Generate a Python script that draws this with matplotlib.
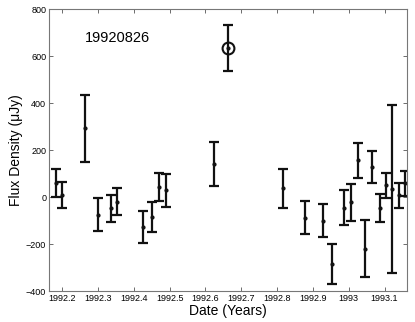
import numpy as np
import matplotlib
matplotlib.use("Agg")
import matplotlib.pyplot as plt

plt.rcParams["font.family"] = ["Liberation Sans", "DejaVu Sans"]

# epoche (anni), flusso e errori (uJy)
dates = [1992.182, 1992.199, 1992.263, 1992.300, 1992.336, 1992.352,
         1992.426, 1992.451, 1992.471, 1992.490, 1992.624, 1992.664,
         1992.817, 1992.877, 1992.929, 1992.952, 1992.987, 1993.006,
         1993.025, 1993.046, 1993.066, 1993.086, 1993.104, 1993.120,
         1993.141, 1993.157]
flux = [60, 9, 292, -76, -48, -20,
        -127, -85, 44, 28, 140, 633,
        38, -87, -101, -284, -45, -22,
        157, -220, 129, -46, 50, 33,
        8, 58]
err = [60, 55, 143, 70, 57, 57,
       67, 65, 60, 72, 93, 98,
       83, 72, 70, 86, 75, 79,
       75, 122, 68, 60, 53, 358,
       53, 52]
flare_idx = 11
label = "19920826"

fig = plt.figure(figsize=(4.15, 3.22), dpi=100)
ax = fig.add_axes([0.118, 0.096, 0.863, 0.876])

ax.errorbar(dates, flux, yerr=err, fmt="o", color="#111111", ms=2,
            elinewidth=1.6, capsize=3.5, capthick=1.6)
ax.plot(dates[flare_idx], flux[flare_idx], "o", mfc="none", mec="#111111",
        ms=8.5, mew=1.5)

ax.text(1992.263, 677, label, fontsize=10.5, va="center", ha="left")

ax.set_xlim(1992.163, 1993.163)
ax.set_ylim(-400, 800)
ax.set_xticks([1992.2, 1992.3, 1992.4, 1992.5, 1992.6, 1992.7,
               1992.8, 1992.9, 1993.0, 1993.1])
ax.set_xticklabels(["1992.2", "1992.3", "1992.4", "1992.5", "1992.6",
                    "1992.7", "1992.8", "1992.9", "1993", "1993.1"])
ax.set_yticks([-400, -200, 0, 200, 400, 600, 800])

ax.tick_params(direction="in", top=True, right=True, labelsize=6.5,
               length=3, width=0.6, color="#555555", pad=2)
for s in ax.spines.values():
    s.set_color("#777777")
    s.set_linewidth(0.8)

ax.set_xlabel("Date (Years)", fontsize=10, labelpad=1)
ax.set_ylabel("Flux Density (\u03bcJy)", fontsize=10, labelpad=2)

fig.savefig("out.png", dpi=100)
